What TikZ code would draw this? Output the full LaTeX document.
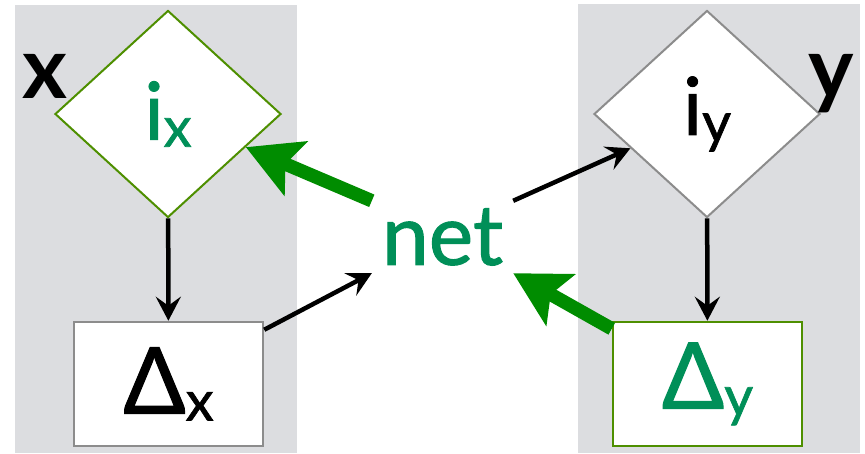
\documentclass[tikz,border=0pt]{standalone}
\usepackage{fontspec}
\setmainfont{Lato}
% a slightly heavier cut for the symbols and the net label
\newfontfamily\heavierfont{Lato}[FakeBold=1.2]
\usetikzlibrary{arrows.meta,shapes.geometric}
\definecolor{panelgray}{HTML}{DCDDE0}
\definecolor{edgegray}{HTML}{8C8C8C}
\definecolor{edgegreen}{HTML}{4E8F00}
\definecolor{textgreen}{HTML}{008F58}
\definecolor{arrowgreen}{HTML}{008C00}
% lowered, smaller index letter
\newcommand{\lowsub}[1]{\raisebox{-7pt}{\fontsize{56}{56}\selectfont #1}}

\begin{document}
\begin{tikzpicture}[x=1pt,y=-1pt,
  decision/.style={diamond,draw,fill=white,line width=2pt,
    minimum width=226pt,minimum height=207pt,inner sep=0pt},
  valuebox/.style={rectangle,draw,fill=white,line width=2.5pt,
    minimum width=189pt,minimum height=124pt,inner sep=0pt},
  bigsym/.style={font=\heavierfont\fontsize{80}{80}\selectfont},
  deltasym/.style={font=\heavierfont\fontsize{92}{92}\selectfont},
  varname/.style={font=\fontsize{86}{86}\selectfont\bfseries,inner sep=0pt},
  flow/.style={line width=4.5pt,-{Stealth[length=24pt,width=25pt,inset=9pt]}},
  push/.style={line width=13.5pt,draw=arrowgreen,
    -{Stealth[length=54pt,width=58pt,inset=11pt]}}]
  \useasboundingbox (0,0) rectangle (865,453);

  % the two variable panels
  \fill[panelgray] (15,5) rectangle (297,453);
  \fill[panelgray] (578,4) rectangle (860,453);

  % variable x
  \node[decision,draw=edgegreen,bigsym,text=textgreen] (ix) at (168,114)
    {\raisebox{-6pt}{i\lowsub{x}}};
  \node[valuebox,draw=edgegray,deltasym] (dx) at (168.5,384)
    {\raisebox{-3pt}{Δ\lowsub{x}}};
  \node[varname] (xname) at (45,76) {x};

  % variable y
  \node[decision,draw=edgegray,bigsym] (iy) at (707,114)
    {\raisebox{-10pt}{i\lowsub{y}}};
  \node[valuebox,draw=edgegreen,deltasym,text=textgreen] (dy) at (707.5,384)
    {\raisebox{-3pt}{Δ\lowsub{y}}};
  \node[varname] (yname) at (831,84) {y};

  % the net in the middle
  \node[minimum width=141pt,minimum height=72pt,inner sep=0pt,
    font=\heavierfont\fontsize{84}{84}\selectfont,text=textgreen] (net)
    at (442.5,237) {\raisebox{-4pt}{net}};

  % connectors
  \draw[flow] (ix) -- (dx);
  \draw[flow] (iy) -- (dy);
  \draw[flow] ([yshift=-9pt]dx.north east) -- (net.south west);
  \draw[flow] (net.north east) -- (iy);
  \draw[push] (net.north west) -- (ix);
  \draw[push] ([yshift=-8pt]dy.north west) -- (net.south east);
\end{tikzpicture}
\end{document}
